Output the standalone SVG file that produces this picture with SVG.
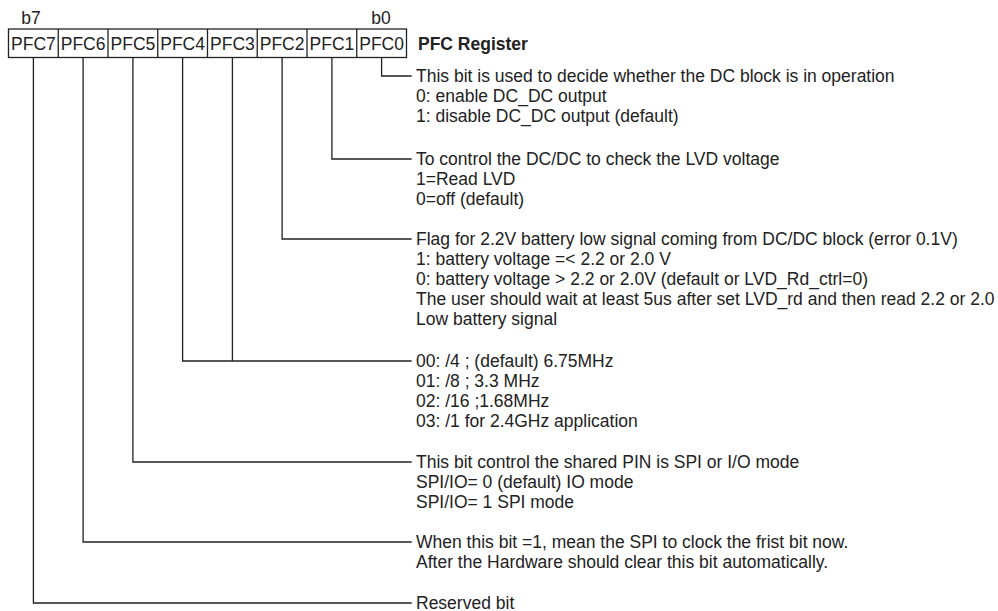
<svg xmlns="http://www.w3.org/2000/svg" width="998" height="611" viewBox="0 0 998 611">
<style>
text{font-family:"Liberation Sans",Arial,sans-serif;font-size:17.5px;fill:#222}
.c{text-anchor:middle}
.b{font-weight:bold}
.cell{fill:#fff;stroke:#222;stroke-width:1.3}
.ln{fill:none;stroke:#222;stroke-width:1.3}
</style>
<rect width="998" height="611" fill="#fff"/>
<g id="register">
<text class="c" x="31" y="24">b7</text>
<text class="c" x="381" y="24">b0</text>
<rect class="cell" x="8.5" y="29" width="398" height="28.5"/>
<g id="cells" class="ln">
<line x1="58.25" y1="29" x2="58.25" y2="57.5"/>
<line x1="108" y1="29" x2="108" y2="57.5"/>
<line x1="157.75" y1="29" x2="157.75" y2="57.5"/>
<line x1="207.5" y1="29" x2="207.5" y2="57.5"/>
<line x1="257.25" y1="29" x2="257.25" y2="57.5"/>
<line x1="307" y1="29" x2="307" y2="57.5"/>
<line x1="356.75" y1="29" x2="356.75" y2="57.5"/>
</g>
<text class="c" x="33.4" y="49.5">PFC7</text>
<text class="c" x="83.1" y="49.5">PFC6</text>
<text class="c" x="132.9" y="49.5">PFC5</text>
<text class="c" x="182.6" y="49.5">PFC4</text>
<text class="c" x="232.4" y="49.5">PFC3</text>
<text class="c" x="282.1" y="49.5">PFC2</text>
<text class="c" x="331.9" y="49.5">PFC1</text>
<text class="c" x="381.6" y="49.5">PFC0</text>
<text class="b" x="418" y="50">PFC Register</text>
</g>
<g id="connectors" class="ln">
<polyline points="381.6,57.5 381.6,76 411.7,76"/>
<polyline points="331.9,57.5 331.9,159 411.7,159"/>
<polyline points="282.1,57.5 282.1,239 411.7,239"/>
<polyline points="182.6,57.5 182.6,361 411.7,361"/>
<line x1="232.4" y1="57.5" x2="232.4" y2="361"/>
<polyline points="132.9,57.5 132.9,462 411.7,462"/>
<polyline points="83.1,57.5 83.1,542 411.7,542"/>
<polyline points="33.4,57.5 33.4,603 411.7,603"/>
</g>
<g id="pfc0">
<text x="416" y="82">This bit is used to decide whether the DC block is in operation</text>
<text x="416" y="102">0: enable DC_DC output</text>
<text x="416" y="122">1: disable DC_DC output (default)</text>
</g>
<g id="pfc1">
<text x="416" y="165">To control the DC/DC to check the LVD voltage</text>
<text x="416" y="185">1=Read LVD</text>
<text x="416" y="205">0=off (default)</text>
</g>
<g id="pfc2">
<text x="416" y="245">Flag for 2.2V battery low signal coming from DC/DC block (error 0.1V)</text>
<text x="416" y="265">1: battery voltage =&lt; 2.2 or 2.0 V</text>
<text x="416" y="285">0: battery voltage &gt; 2.2 or 2.0V (default or LVD_Rd_ctrl=0)</text>
<text x="416" y="305">The user should wait at least 5us after set LVD_rd and then read 2.2 or 2.0</text>
<text x="416" y="325">Low battery signal</text>
</g>
<g id="pfc43">
<text x="416" y="367">00: /4 ; (default) 6.75MHz</text>
<text x="416" y="387">01: /8 ; 3.3 MHz</text>
<text x="416" y="407">02: /16 ;1.68MHz</text>
<text x="416" y="427">03: /1 for 2.4GHz application</text>
</g>
<g id="pfc5">
<text x="416" y="468">This bit control the shared PIN is SPI or I/O mode</text>
<text x="416" y="488">SPI/IO= 0 (default) IO mode</text>
<text x="416" y="508">SPI/IO= 1 SPI mode</text>
</g>
<g id="pfc6">
<text x="416" y="548">When this bit =1, mean the SPI to clock the frist bit now.</text>
<text x="416" y="568">After the Hardware should clear this bit automatically.</text>
</g>
<g id="pfc7">
<text x="416" y="608.5">Reserved bit</text>
</g>
</svg>
